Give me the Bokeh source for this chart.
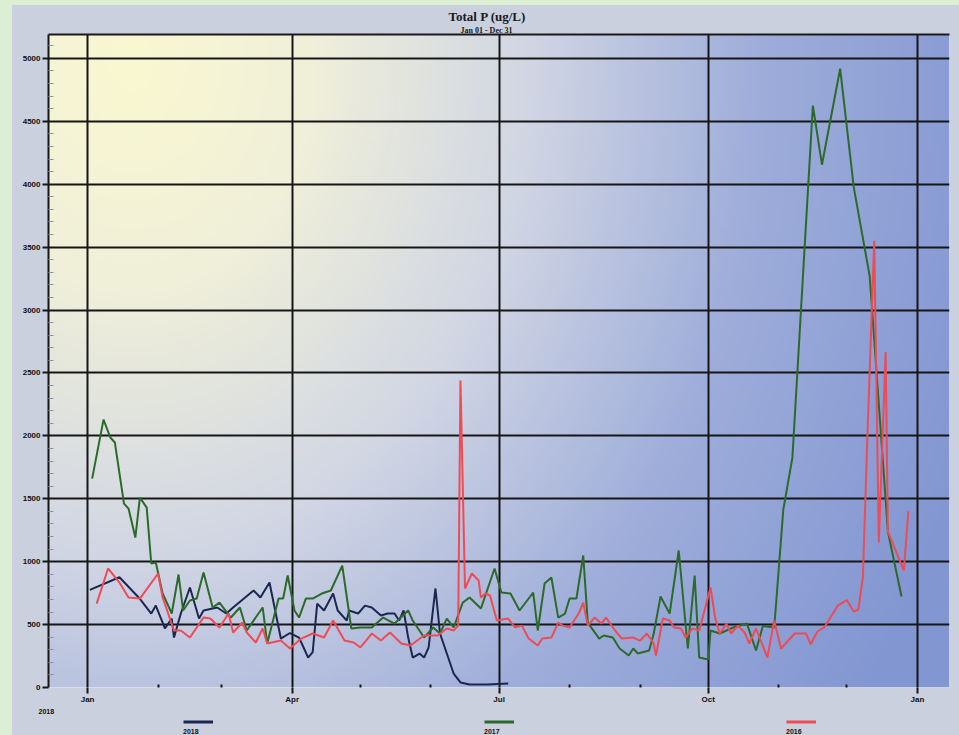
import numpy as np
from bokeh.plotting import figure
from bokeh.layouts import column
from bokeh.models import (Range1d, FixedTicker, Legend, LegendItem, Title,
                          LinearAxis, GlobalInlineStyleSheet)
from bokeh.embed import file_html
from bokeh.resources import INLINE

# ---------------- data (day of year, Total P ug/L) ----------------
days_2018 = [1, 14, 23, 28, 30, 34, 37, 38, 41, 45, 49, 51, 57, 61, 64, 73, 76, 80, 85, 89,
             93, 95, 97, 99, 101, 104, 108, 110, 114, 115, 119, 122, 125, 129, 132, 135, 137, 139, 141, 143,
             146, 148, 150, 153, 155, 158, 161, 164, 168, 176, 185]
tp_2018 = [776, 876, 705, 588, 651, 469, 548, 397, 588, 795, 548, 612, 636, 588, 636, 771, 715, 834, 389, 433,
           397, 318, 238, 282, 667, 612, 747, 612, 532, 612, 588, 651, 636, 572, 588, 588, 532, 612, 397, 238,
           270, 238, 318, 787, 429, 270, 111, 40, 24, 24, 32]

days_2017 = [2, 7, 10, 12, 16, 18, 21, 23, 26, 28, 30, 33, 37, 40, 42, 45, 48, 51, 55, 58,
             63, 67, 70, 77, 79, 84, 86, 88, 91, 93, 96, 99, 103, 107, 112, 116, 120, 125, 130, 135,
             141, 143, 148, 152, 155, 158, 161, 165, 168, 173, 179, 182, 186, 190, 196, 198, 201, 204, 207, 210,
             212, 215, 218, 220, 225, 227, 231, 234, 238, 240, 242, 247, 249, 252, 256, 260, 264, 267, 269, 273,
             274, 278, 284, 290, 294, 297, 302, 303, 306, 310, 319, 323, 331, 337, 344, 352, 358]
tp_2017 = [1660, 2129, 1987, 1947, 1462, 1422, 1192, 1510, 1430, 985, 993, 747, 588, 898, 612, 691, 707, 914, 636, 675,
           556, 636, 453, 636, 350, 707, 707, 890, 612, 556, 707, 707, 747, 771, 969, 469, 477, 477, 556, 508,
           612, 532, 397, 477, 429, 548, 477, 675, 715, 628, 946, 755, 747, 612, 755, 453, 826, 874, 556, 588,
           707, 707, 1049, 516, 389, 413, 397, 310, 254, 310, 270, 294, 429, 723, 588, 1089, 310, 890, 238, 222,
           453, 429, 477, 508, 294, 488, 477, 707, 1414, 1827, 4624, 4155, 4918, 3975, 3269, 1239, 723]

days_2016 = [4, 9, 14, 18, 23, 31, 33, 38, 41, 45, 51, 54, 58, 62, 64, 68, 70, 74, 77, 79,
             85, 89, 94, 99, 104, 108, 113, 117, 120, 125, 129, 133, 138, 142, 148, 154, 158, 161, 163, 164,
             166, 169, 172, 173, 175, 177, 180, 185, 188, 191, 194, 198, 200, 204, 207, 209, 212, 216, 218, 220,
             223, 226, 228, 232, 235, 240, 243, 246, 249, 250, 253, 256, 258, 261, 263, 266, 269, 271, 274, 276,
             278, 281, 283, 286, 289, 291, 294, 299, 302, 305, 311, 316, 318, 321, 324, 330, 334, 337, 339, 341,
             343, 346, 348, 351, 352, 359, 361]
tp_2016 = [667, 946, 834, 715, 707, 906, 715, 453, 453, 397, 556, 548, 477, 588, 437, 516, 437, 358, 469, 350,
           373, 310, 389, 429, 397, 532, 373, 358, 318, 429, 373, 437, 350, 334, 413, 413, 469, 453, 492, 2439,
           787, 906, 850, 715, 747, 731, 532, 548, 477, 492, 389, 334, 389, 397, 516, 492, 477, 588, 675, 492,
           556, 508, 556, 453, 389, 397, 373, 429, 350, 254, 548, 532, 477, 469, 397, 469, 453, 588, 795, 556,
           429, 508, 429, 492, 437, 350, 469, 238, 532, 310, 429, 429, 342, 445, 477, 652, 694, 604, 620, 874,
           2002, 3551, 1152, 2666, 1239, 930, 1401]

assert len(days_2018) == len(tp_2018)
assert len(days_2017) == len(tp_2017)
assert len(days_2016) == len(tp_2016)

series_names = ["2018", "2017", "2016"]
series_colors = ["#1b2750", "#2c6a2a", "#ef4b55"]

month_ticks = [0, 90, 181, 273, 365]
month_labels = ["Jan", "Apr", "Jul", "Oct", "Jan"]
minor_month_ticks = [31, 59, 120, 151, 212, 243, 304, 334]
y_ticks = list(range(0, 5001, 500))
y_minor = [v for v in range(0, 5101, 100) if v % 500]

title_text = "Total P (ug/L)"
subtitle_text = "Jan 01 - Dec 31"
year_text = "2018"

BORDER = "#cbd0df"
INK = "#161616"

# ---------------- main figure ----------------
x_lo, x_hi = -17.2, 379.1
y_lo, y_hi = 0, 5190

p = figure(width=947, height=712, output_backend="svg", toolbar_location=None, title=None,
           x_range=Range1d(x_lo, x_hi), y_range=Range1d(y_lo, y_hi),
           min_border_left=36, min_border_right=10, min_border_top=29, min_border_bottom=30)
p.border_fill_color = BORDER
p.outline_line_color = None

# background gradient (pale yellow at top-left to blue at right)
H, W = 160, 240
fw, fh = 901.0, 653.0
px = np.linspace(0, fw, W)[None, :]
py_top = (fh - np.linspace(0, fh, H))[:, None]
d = np.sqrt((px - 82) ** 2 + (0.8 * (py_top - 26)) ** 2) / 900.0
stops = [0.0, 0.2, 0.45, 0.7, 1.0]
rs = [250, 240, 208, 158, 130]
gs = [248, 240, 213, 173, 150]
bs = [208, 218, 228, 218, 210]
img = np.empty((H, W), dtype=np.uint32)
view = img.view(dtype=np.uint8).reshape((H, W, 4))
view[:, :, 0] = np.interp(d, stops, rs).astype(np.uint8)
view[:, :, 1] = np.interp(d, stops, gs).astype(np.uint8)
view[:, :, 2] = np.interp(d, stops, bs).astype(np.uint8)
view[:, :, 3] = 255
bg = p.image_rgba(image=[img], x=x_lo, y=y_lo, dw=x_hi - x_lo, dh=y_hi - y_lo)
bg.level = "image"

# grid
p.xgrid.ticker = FixedTicker(ticks=month_ticks)
p.ygrid.ticker = FixedTicker(ticks=y_ticks)
for g in (p.xgrid, p.ygrid):
    g.grid_line_color = INK
    g.grid_line_width = 2

# axes
xa = p.xaxis[0]
xa.ticker = FixedTicker(ticks=month_ticks, minor_ticks=minor_month_ticks)
xa.major_label_overrides = {t: l for t, l in zip(month_ticks, month_labels)}
xa.axis_line_color = None
xa.major_tick_line_color = INK
xa.major_tick_line_width = 2
xa.major_tick_out = 6
xa.major_tick_in = 0
xa.minor_tick_line_color = INK
xa.minor_tick_line_width = 2
xa.minor_tick_in = 3
xa.minor_tick_out = 0
xa.major_label_standoff = 1

ya = p.yaxis[0]
ya.ticker = FixedTicker(ticks=y_ticks, minor_ticks=y_minor)
ya.axis_line_color = INK
ya.axis_line_width = 2
ya.major_tick_line_color = INK
ya.major_tick_line_width = 2
ya.major_tick_out = 6
ya.major_tick_in = 0
ya.minor_tick_line_color = "#8c92a6"
ya.minor_tick_in = 5
ya.minor_tick_out = 0
ya.major_label_standoff = 2

for ax in (xa, ya):
    ax.major_label_text_font = "Liberation Sans"
    ax.major_label_text_font_style = "bold"
    ax.major_label_text_font_size = "8px"
    ax.major_label_text_color = "#111111"

top_axis = LinearAxis(ticker=FixedTicker(ticks=[]), axis_line_color="#1a1a1a", axis_line_width=2,
                      major_tick_line_color=None, minor_tick_line_color=None,
                      major_tick_out=0, minor_tick_out=0, major_tick_in=0, minor_tick_in=0,
                      major_label_standoff=0, axis_label_standoff=0)
p.add_layout(top_axis, "above")
p.add_layout(Title(text=subtitle_text, text_font="Liberation Serif", text_font_style="bold",
                   text_font_size="8px", text_color="#1a1a1a", align="left", offset=412,
                   standoff=0), "above")
p.add_layout(Title(text=title_text, text_font="Liberation Serif", text_font_style="bold",
                   text_font_size="13px", text_color="#1a1a1a", align="left", offset=400,
                   standoff=0), "above")
p.add_layout(Title(text=year_text, text_font="Liberation Sans", text_font_style="bold",
                   text_font_size="7px", text_color="#111111", align="left", offset=-10,
                   standoff=0), "below")

# series
for xs, ys, c in [(days_2018, tp_2018, series_colors[0]),
                  (days_2017, tp_2017, series_colors[1]),
                  (days_2016, tp_2016, series_colors[2])]:
    p.line(xs, ys, line_color=c, line_width=2)

# ---------------- legend strip ----------------
lf = figure(width=947, height=18, output_backend="svg", toolbar_location=None, title=None,
            x_range=Range1d(0, 1), y_range=Range1d(0, 1),
            min_border_left=0, min_border_right=0, min_border_top=0, min_border_bottom=0)
lf.axis.visible = False
lf.grid.visible = False
lf.outline_line_color = None
lf.background_fill_color = BORDER
lf.border_fill_color = BORDER

legend_x = [135, 436, 738]
for name, c, lx in zip(series_names, series_colors, legend_x):
    r = lf.line(x=[np.nan], y=[np.nan], line_color=c, line_width=3)
    lg = Legend(items=[LegendItem(label="", renderers=[r])], title=name, title_location="below",
                location=(lx, 0), glyph_width=30, glyph_height=5, label_width=0, label_standoff=0,
                label_height=5, padding=0, margin=0, spacing=0, title_standoff=4,
                title_text_font="Liberation Sans", title_text_font_style="bold",
                title_text_font_size="7px", title_text_color="#111111",
                label_text_font_size="5px",
                background_fill_alpha=0, border_line_alpha=0)
    lf.add_layout(lg)

layout = column(p, lf, spacing=0)
layout.styles = {"background-color": BORDER}
layout.stylesheets = [GlobalInlineStyleSheet(
    css="html, body { background: #dcefd5; } body { padding: 5px 0 0 12px; }")]

open("out.html", "w").write(file_html(layout, INLINE))
